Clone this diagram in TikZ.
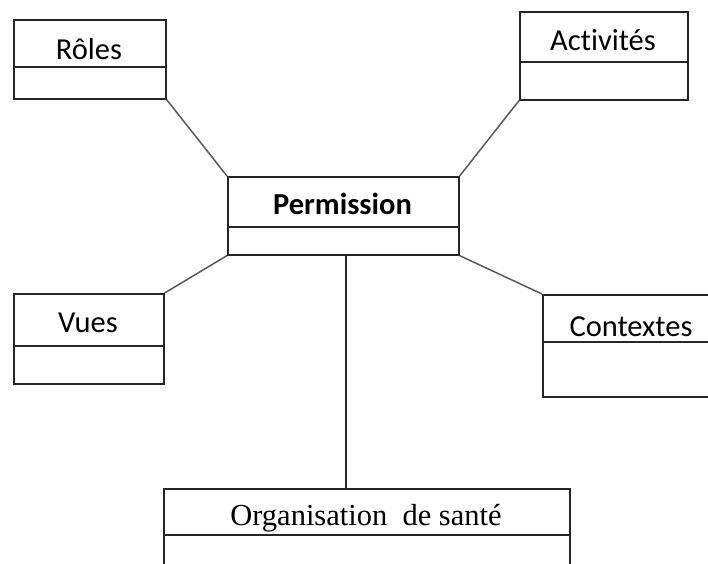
\documentclass[tikz,border=0pt]{standalone}
\usepackage{fontspec}
\setmainfont{Carlito}[Ligatures=CommonOff]
\newfontfamily\serifname{Liberation Serif}
\begin{document}
\begin{tikzpicture}[x=1pt,y=-1pt,
  part/.style={draw=black!85, line width=1.6pt, inner sep=0pt, anchor=north west, rectangle},
  link/.style={draw=black!65, line width=1.5pt},
  lbl/.style={anchor=base, inner sep=0pt, font=\fontsize{30.5}{34}\selectfont},
  lblb/.style={lbl, font=\fontsize{30.5}{34}\selectfont\bfseries},
  lbls/.style={anchor=base, inner sep=0pt, font=\fontsize{30.5}{34}\selectfont\serifname}]
  \useasboundingbox (0,0) rectangle (708,563);

  % Rôles
  \node[part, minimum width=152pt, minimum height=47pt] (rolesT) at (13,19) {};
  \node[part, minimum width=152pt, minimum height=32pt] (rolesB) at (13,66) {};
  \node[lbl] (rolesL) at (89,59) {Rôles};

  % Activités
  \node[part, minimum width=168pt, minimum height=50pt] (actT) at (519,11) {};
  \node[part, minimum width=168pt, minimum height=38pt] (actB) at (519,61) {};
  \node[lbl] (actL) at (603,50) {Activités};

  % Permission
  \node[part, minimum width=231pt, minimum height=50pt] (permT) at (227,176) {};
  \node[part, minimum width=231pt, minimum height=28pt] (permB) at (227,226) {};
  \node[lblb] (permL) at (342.5,214) {Permission};

  % Vues
  \node[part, minimum width=150pt, minimum height=52pt] (vuesT) at (13,293) {};
  \node[part, minimum width=150pt, minimum height=38pt] (vuesB) at (13,345) {};
  \node[lbl] (vuesL) at (88,332) {Vues};

  % Contextes
  \node[part, minimum width=180pt, minimum height=47pt] (ctxT) at (542,294) {};
  \node[part, minimum width=180pt, minimum height=55pt] (ctxB) at (542,341) {};
  \node[lbl] (ctxL) at (631,336) {Contextes};

  % Organisation de santé
  \node[part, minimum width=406pt, minimum height=46pt] (orgT) at (163,488) {};
  \node[part, minimum width=406pt, minimum height=45pt] (orgB) at (163,534) {};
  \node[lbls] (orgL) at (366,525) {Organisation\hspace{0.25em} de santé};

  % Associations
  \draw[link] (rolesB.south east) -- (permT.north west);
  \draw[link] (actB.south west) -- (permT.north east);
  \draw[link] (vuesT.north east) -- (permB.south west);
  \draw[link] (ctxT.north west) -- (permB.south east);
  \draw[part, draw=black!85] (permB.south -| 346,0) -- (orgT.north -| 346,0);
\end{tikzpicture}
\end{document}
